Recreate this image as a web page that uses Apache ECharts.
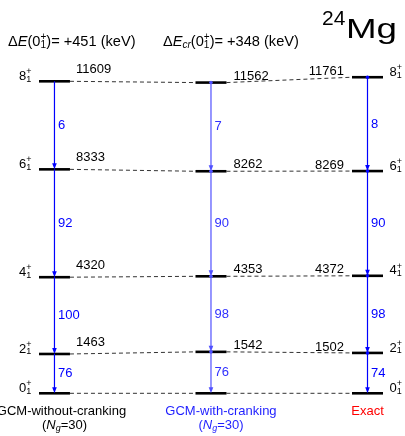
<!DOCTYPE html>
<html><head><meta charset="utf-8">
<script src="https://cdn.jsdelivr.net/npm/echarts@6/dist/echarts.min.js"></script>
<style>html,body{margin:0;padding:0;background:#fff}#c{width:405px;height:436px}</style>
</head><body><div id="c"></div>
<script>
// ---- data ----
const columns = ['GCM-without-cranking', 'GCM-with-cranking', 'Exact'];
const spins = ['0', '2', '4', '6', '8'];
const energiesNoCrank = [0, 1463, 4320, 8333, 11609];
const energiesCrank = [0, 1542, 4353, 8262, 11562];
const energiesExact = [0, 1502, 4372, 8269, 11761];
// B(E2) values for transitions 2->0, 4->2, 6->4, 8->6
const bNoCrank = [76, 100, 92, 6];
const bCrank = [76, 98, 90, 7];
const bExact = [74, 98, 90, 8];
const deltaNoCrank = 451;
const deltaCrank = 348;
const massNumber = '24';
const element = 'Mg';
const nGauss = 30;

// ---- style ----
const FONT = '"Liberation Sans", Arial, Helvetica, sans-serif';
const HW = 0.099;
const arrowColors = ['#0000ff', '#5050ff', '#0000ff'];
const bLabelColors = ['#0000ff', '#3030ff', '#0000ff'];
const colLabelColors = ['#000000', '#1e1eff', '#ff0000'];
const energies = [energiesNoCrank, energiesCrank, energiesExact];
const bvals = [bNoCrank, bCrank, bExact];

const ctx = document.createElement('canvas').getContext('2d');
function fontStr(s, it) { return (it ? 'italic ' : '') + s + 'px ' + FONT; }
function tw(t, s, it) { ctx.font = fontStr(s, it); return ctx.measureText(t).width; }
let SUP = -4.5, SUB = 3;
function composite(parts, x0, y, color, align, sup, sub) {
  const su = sup == null ? SUP : sup, sb = sub == null ? SUB : sub;
  const ws = parts.map(p => p.stack ? Math.max(tw(p.sup, p.s), tw(p.sub, p.s)) : tw(p.t, p.s, p.i));
  const total = ws.reduce((a, b) => a + b, 0);
  let x = align === 'center' ? x0 - total / 2 : align === 'right' ? x0 - total : x0;
  const els = [];
  const mk = (t, xx, yy, s, it) => ({ type: 'text', silent: true, style: {
    text: t, x: xx, y: yy, font: fontStr(s, it), fill: color, textAlign: 'left', textVerticalAlign: 'middle' } });
  parts.forEach((p, k) => {
    if (p.stack) {
      els.push(mk(p.sup, x, y + su, p.s, false));
      els.push(mk(p.sub, x, y + sb, p.s, false));
    } else {
      els.push(mk(p.t, x, y + (p.dy || 0), p.s, p.i));
    }
    x += ws[k];
  });
  return els;
}
function spinParts(j) { return [{ t: spins[j], s: 13 }, { stack: true, sup: '+', sub: '1', s: 9 }]; }

// ---- series data ----
const levelData = [], arrowData = [], connData = [];
energies.forEach((arr, c) => {
  arr.forEach((E, j) => levelData.push([c, E, j]));
  for (let j = arr.length - 1; j >= 1; j--) arrowData.push([c, arr[j], arr[j - 1], bvals[c][j - 1]]);
});
for (let c = 0; c < 2; c++) energies[c].forEach((E, j) => connData.push([c, E, energies[c + 1][j]]));

function renderLevel(params, api) {
  const c = api.value(0), E = api.value(1), j = api.value(2);
  const a = api.coord([c - HW, E]), b = api.coord([c + HW, E]);
  let ch = [{ type: 'line', shape: { x1: a[0], y1: a[1], x2: b[0], y2: b[1] }, style: { stroke: '#000', lineWidth: 2.6 } }];
  if (E > 0) {
    let st;
    if (c === 0) st = { x: b[0] + 6, y: a[1] - 12, textAlign: 'left' };
    else if (c === 1) st = { x: b[0] + 7, y: a[1] - 6.5, textAlign: 'left' };
    else st = { x: a[0] - 8, y: a[1] - 6, textAlign: 'right' };
    ch.push({ type: 'text', silent: true, style: Object.assign({ text: String(E), font: fontStr(13), fill: '#000', textVerticalAlign: 'middle' }, st) });
  }
  if (c === 0) ch = ch.concat(composite(spinParts(j), a[0] - 7.5, a[1] - 5, '#000', 'right'));
  if (c === 2) ch = ch.concat(composite(spinParts(j), b[0] + 6.5, a[1] - 5, '#000', 'left'));
  return { type: 'group', children: ch };
}
function renderArrow(params, api) {
  const c = api.value(0), Eu = api.value(1), El = api.value(2), B = api.value(3);
  const p = api.coord([c, Eu]), q = api.coord([c, El]);
  const col = arrowColors[c];
  const ch = [
    { type: 'line', shape: { x1: p[0], y1: p[1], x2: q[0], y2: q[1] - 4 }, style: { stroke: col, lineWidth: 1.2 } },
    { type: 'polygon', shape: { points: [[q[0] - 2.3, q[1] - 6], [q[0] + 2.3, q[1] - 6], [q[0], q[1]]] }, style: { fill: col } },
    { type: 'text', silent: true, style: { text: String(B), x: p[0] + 3.5, y: (p[1] + q[1]) / 2, font: fontStr(13), fill: bLabelColors[c], textAlign: 'left', textVerticalAlign: 'middle' } }
  ];
  if (c > 0) ch.push({ type: 'circle', shape: { cx: p[0], cy: p[1], r: 1.8 }, style: { fill: col } });
  return { type: 'group', children: ch };
}
function renderConn(params, api) {
  const c = api.value(0), E1 = api.value(1), E2 = api.value(2);
  const a = api.coord([c + HW, E1]), b = api.coord([c + 1 - HW, E2]);
  return { type: 'line', shape: { x1: a[0], y1: a[1], x2: b[0], y2: b[1] }, style: { stroke: '#333', lineWidth: 1, lineDash: [4, 3] } };
}

const chart = echarts.init(document.getElementById('c'), null, { renderer: 'canvas' });
chart.setOption({
  animation: false,
  backgroundColor: '#fff',
  grid: { left: 0, right: 0, top: 70.8, bottom: 42.7 },
  xAxis: { type: 'value', min: -0.348, max: 2.2396, show: false },
  yAxis: { type: 'value', min: 0, max: 12000, show: false },
  series: [
    { type: 'custom', renderItem: renderConn, data: connData, encode: { x: 0, y: [1, 2] }, clip: false, silent: true, z: 1 },
    { type: 'custom', renderItem: renderArrow, data: arrowData, encode: { x: 0, y: [1, 2] }, clip: false, silent: true, z: 3 },
    { type: 'custom', renderItem: renderLevel, data: levelData, encode: { x: 0, y: 1 }, clip: false, silent: true, z: 2 }
  ]
});

// ---- texts ----
let g = [];
const HS = 14.6, HSS = 10;
g = g.concat(composite([
  { t: '\u0394', s: HS }, { t: 'E', s: HS, i: true }, { t: '(0', s: HS }, { stack: true, sup: '+', sub: '1', s: HSS },
  { t: ')= +' + deltaNoCrank + ' (keV)', s: HS }], 8, 42, '#000', 'left', -5, 3.5));
g = g.concat(composite([
  { t: '\u0394', s: HS }, { t: 'E', s: HS, i: true }, { t: 'cr', s: HSS, i: true, dy: 3.5 }, { t: '(0', s: HS }, { stack: true, sup: '+', sub: '1', s: HSS },
  { t: ')= +' + deltaCrank + ' (keV)', s: HS }], 163, 42, '#000', 'left', -5, 3.5));
g.push({ type: 'text', silent: true, style: { text: massNumber, x: 322, y: 19, font: fontStr(21), fill: '#000', textAlign: 'left', textVerticalAlign: 'middle' } });
g.push({ type: 'text', silent: true, x: 346, y: 30.5, scaleX: 1.36, style: { text: element, x: 0, y: 0, font: fontStr(27), fill: '#000', textAlign: 'left', textVerticalAlign: 'middle' } });
const labelShift = [7, 10, 0];
const subShift = [10, 10, 0];
columns.forEach((name, c) => {
  const px = chart.convertToPixel({ gridIndex: 0 }, [c, 0])[0];
  g = g.concat(composite([{ t: name, s: 13 }], px + labelShift[c], 411.5, colLabelColors[c], 'center'));
  if (c < 2) g = g.concat(composite([{ t: '(', s: 13 }, { t: 'N', s: 13, i: true }, { t: 'g', s: 9, i: true, dy: SUB }, { t: '=' + nGauss + ')', s: 13 }], px + subShift[c], 425, colLabelColors[c], 'center'));
});
chart.setOption({ graphic: { elements: g } });
</script>
</body></html>
